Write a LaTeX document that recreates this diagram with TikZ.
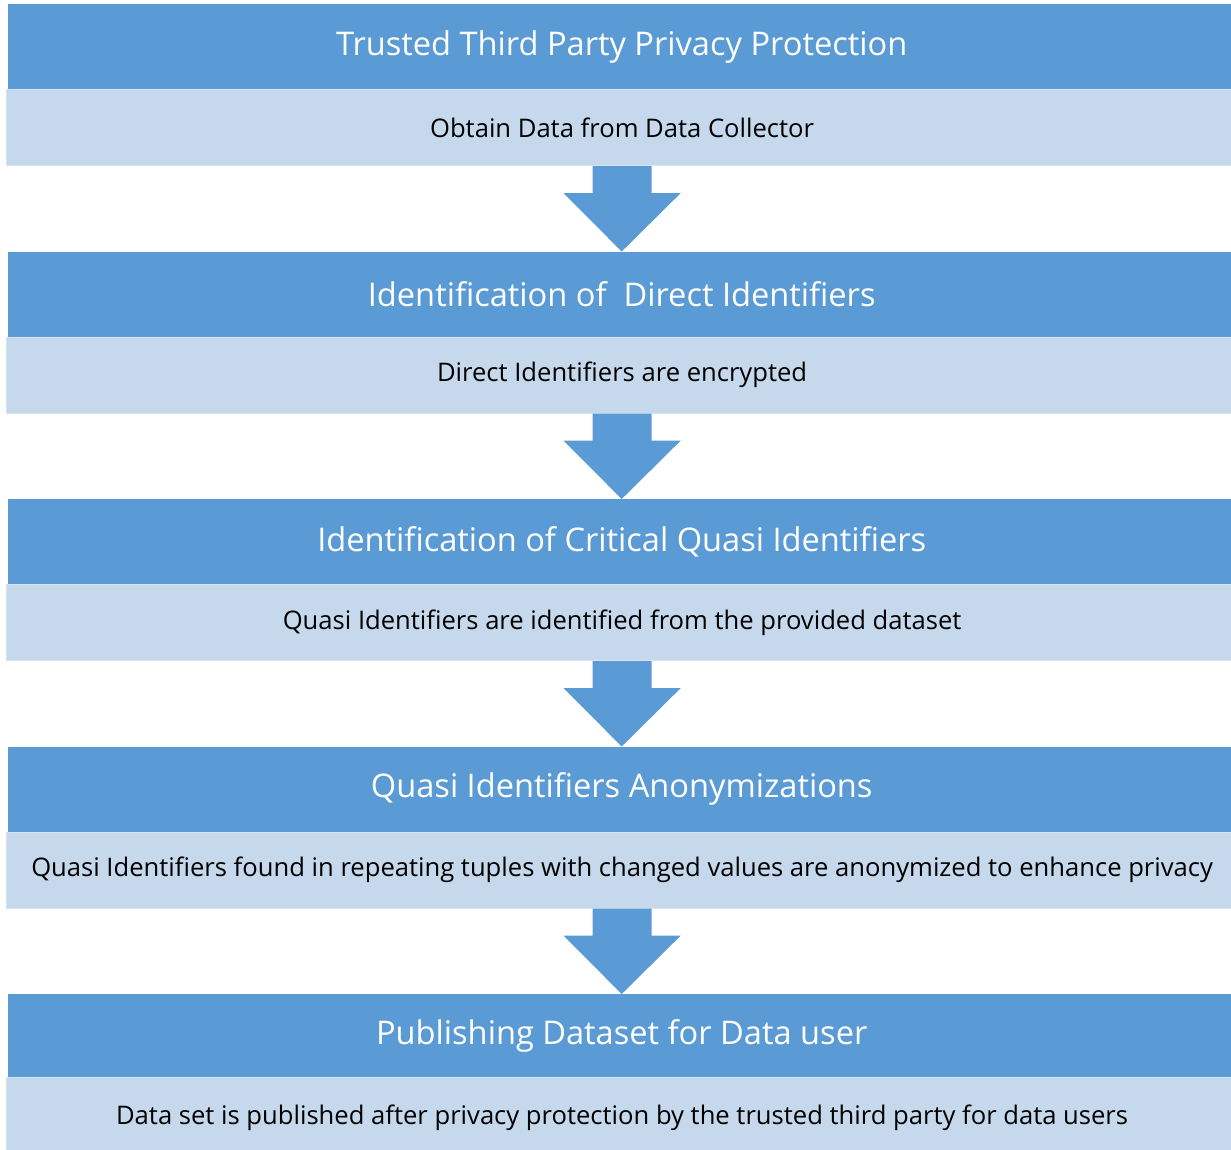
\documentclass[tikz,border=0pt]{standalone}
\usepackage{fontspec}
\setmainfont[Ligatures=NoCommon]{Open Sans}
\usetikzlibrary{calc}
\definecolor{headblue}{HTML}{5B9BD5}
\definecolor{bandblue}{HTML}{C5D8EC}
\definecolor{bandedge}{HTML}{D6E3F2}
\tikzset{
  headbox/.style={fill=headblue, draw=none, minimum width=1227pt, minimum height=85pt,
    inner sep=0pt, text=white, font=\fontsize{32.6}{38}\selectfont, anchor=north west},
  bandbox/.style={fill=bandblue, draw=bandedge, line width=1.2pt, minimum width=1231pt,
    minimum height=76pt, inner sep=0pt, text=black, font=\fontsize{25.6}{30}\selectfont,
    anchor=north west},
  flowarrow/.style={fill=headblue, draw=none},
}
\begin{document}
\begin{tikzpicture}[x=1pt, y=-1pt]
  \useasboundingbox[fill=white] (0,0) rectangle (1231,1149);
  % headers and their description bands
  \node[headbox] (h1) at (8,4) {Trusted Third Party Privacy Protection};
  \node[bandbox] (b1) at (6,89) {Obtain Data from Data Collector};
  \node[headbox] (h2) at (8,251.5) {Identification of\ \ Direct Identifiers};
  \node[bandbox] (b2) at (6,336.5) {Direct Identifiers are encrypted};
  \node[headbox] (h3) at (8,499) {Identification of Critical Quasi Identifiers};
  \node[bandbox] (b3) at (6,584) {Quasi Identifiers are identified from the provided dataset};
  \node[headbox] (h4) at (8,746.5) {Quasi Identifiers Anonymizations};
  \node[bandbox] (b4) at (6,831.5) {Quasi Identifiers found in repeating tuples with changed values are anonymized to enhance privacy};
  \node[headbox, minimum height=83pt] (h5) at (8,994) {Publishing Dataset for Data user};
  \node[bandbox, minimum height=80pt] (b5) at (6,1077) {Data set is published after privacy protection by the trusted third party for data users};
  % block arrows between stages
  \foreach \a/\b in {b1/h2, b2/h3, b3/h4, b4/h5}{
    \fill[flowarrow]
      ($(\a.south)+(-29.5,0)$) -- ($(\a.south)+(29.5,0)$) -- ($(\a.south)+(29.5,27)$)
      -- ($(\a.south)+(58.5,27)$) -- (\b.north) -- ($(\a.south)+(-58.5,27)$)
      -- ($(\a.south)+(-29.5,27)$) -- cycle;
  }
\end{tikzpicture}
\end{document}
